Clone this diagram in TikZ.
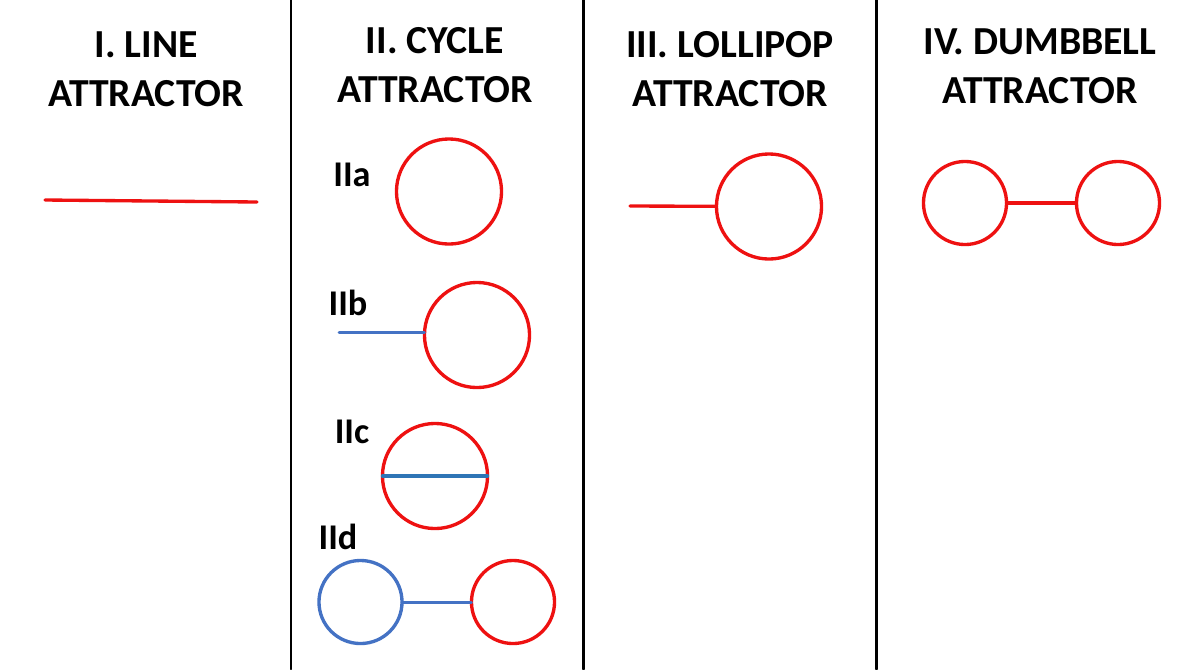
\documentclass[tikz,border=0pt]{standalone}
\usepackage{fontspec}
\setmainfont{Carlito}
\definecolor{cycred}{HTML}{EE1111}
\definecolor{tailblue}{HTML}{4472C4}
\definecolor{chordblue}{HTML}{2E75B6}
\begin{document}
\begin{tikzpicture}[x=0.01cm, y=-0.01cm, line join=round, line cap=round,
	title/.style={font=\fontsize{11.3}{13.66}\selectfont\bfseries, align=center, anchor=base, inner sep=0},
	tag/.style={font=\fontsize{10.3}{12}\selectfont\bfseries, anchor=base, inner sep=0},
	big/.style={circle, draw=cycred, line width=0.95pt, minimum size=1.05cm, inner sep=0, outer sep=0},
	small/.style={big, minimum size=0.83cm},
	attr/.style={draw=cycred, line width=0.95pt},
	tail/.style={draw=tailblue, line width=0.85pt}]
	\useasboundingbox[fill=white] (0,0) rectangle (1194,669);
	% column rules
	\draw[line width=0.85pt] (291,0)--(291,669);
	\draw[line width=0.85pt] (583,0)--(583,669);
	\draw[line width=0.85pt] (876,0)--(876,669);
	% titles (anchored at the last line)
	\node[title] (t1) at (146,106) {I. LINE\\ATTRACTOR};
	\node[title] (t2) at (435,102) {II. CYCLE\\ATTRACTOR};
	\node[title] (t3) at (730,106) {III. LOLLIPOP\\ATTRACTOR};
	\node[title] (t4) at (1040,103) {IV. DUMBBELL\\ATTRACTOR};
	% I
	\coordinate (l1) at (45,200);
	\coordinate (l2) at (257,202);
	\draw[attr] (l1)--(l2);
	% II
	\node[tag] (la) at (352,186) {IIa};
	\node[big] (ca) at (449,191.5) {};
	\node[tag] (lb) at (348,315) {IIb};
	\node[big] (cb) at (477,335) {};
	\coordinate (tb) at (339,332);
	\draw[tail] (tb)--(tb -| cb.west);
	\node[tag] (lc) at (352,443) {IIc};
	\node[big] (cc) at (435,476) {};
	\draw[draw=chordblue, line width=0.95pt] (cc.west)--(cc.east);
	\node[tag] (ld) at (338,549) {IId};
	\node[small, draw=tailblue] (cd1) at (360.5,602) {};
	\node[small] (cd2) at (513,602) {};
	\draw[tail] (cd1)--(cd2);
	% III
	\node[big] (cl) at (769,206.5) {};
	\coordinate (sl) at (630,206);
	\draw[attr] (sl)--(cl);
	% IV
	\node[small] (cw1) at (965,203) {};
	\node[small] (cw2) at (1118,203) {};
	\draw[attr] (cw1)--(cw2);
\end{tikzpicture}
\end{document}
